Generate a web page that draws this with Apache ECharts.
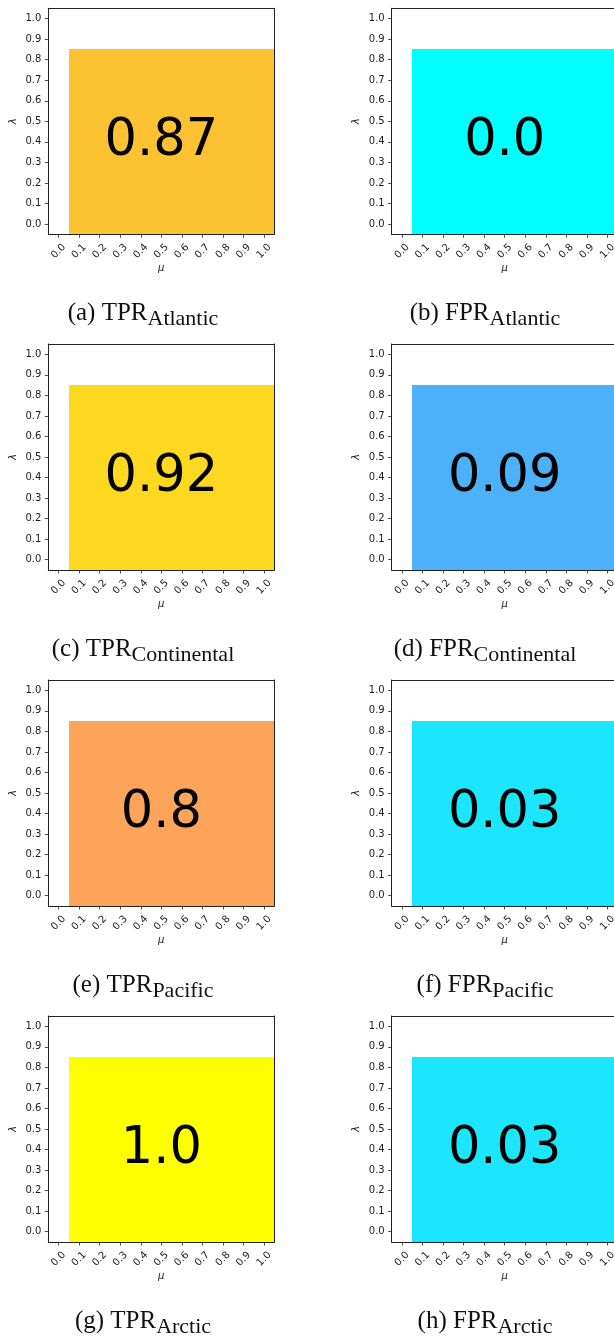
<!DOCTYPE html>
<html>
<head>
<meta charset="utf-8">
<script src="https://cdn.jsdelivr.net/npm/echarts@6/dist/echarts.min.js"></script>
<style>
html,body{margin:0;padding:0;background:#fff;}
#c{width:614px;height:1336px;}
</style>
</head>
<body>
<div id="c"></div>
<script>
// ---- data ----
const regions = ['Atlantic', 'Continental', 'Pacific', 'Arctic'];
const letters = [['a', 'b'], ['c', 'd'], ['e', 'f'], ['g', 'h']];
const tprValues = [0.87, 0.92, 0.8, 1.0];
const fprValues = [0.0, 0.09, 0.03, 0.03];
const tprColors = ['#FCC232', '#FDD821', '#FCA55A', '#FFFF00'];
const fprColors = ['#00FFFF', '#4DB1FA', '#1BE6FE', '#1BE6FE'];
const muValues = [0.1, 0.2, 0.3, 0.4, 0.5, 0.6, 0.7, 0.8, 0.9, 1.0];
const lambdaValues = [0.0, 0.1, 0.2, 0.3, 0.4, 0.5, 0.6, 0.7, 0.8];
const tickValues = [0.0, 0.1, 0.2, 0.3, 0.4, 0.5, 0.6, 0.7, 0.8, 0.9, 1.0];
const textPos = [0.5, 0.4];
const axisMin = -0.05, axisMax = 1.05;

// ---- layout ----
const rowTops = [8.3, 344, 680, 1016];
const colLefts = [48.3, 391.7];
const gridSize = 226;
const captionX = [143, 485];
const captionY = 330;
const rowStep = 336;

const chart = echarts.init(document.getElementById('c'), null, {renderer: 'canvas'});

const grids = [], xAxes = [], yAxes = [], series = [], graphics = [];
const fmt = v => (Math.round(v * 10) / 10).toFixed(1);
const fmtVal = v => (Number.isInteger(v) ? v.toFixed(1) : String(v));
const spine = {show: true, onZero: false, lineStyle: {color: '#222', width: 1}};
const halfW = (muValues[1] - muValues[0]) / 2;
const halfH = (lambdaValues[1] - lambdaValues[0]) / 2;

let gi = 0;
for (let r = 0; r < 4; r++) {
  for (let c = 0; c < 2; c++) {
    const value = c === 0 ? tprValues[r] : fprValues[r];
    const color = c === 0 ? tprColors[r] : fprColors[r];
    grids.push({left: colLefts[c], top: rowTops[r], width: gridSize, height: gridSize,
      containLabel: false, outerBoundsMode: 'none'});
    // main axes
    xAxes.push({
      type: 'value', gridIndex: gi, min: axisMin, max: axisMax, position: 'bottom', z: 10,
      axisLine: spine,
      axisTick: {show: true, length: 3.5, customValues: tickValues, lineStyle: {color: '#222', width: 0.8}},
      axisLabel: {customValues: tickValues, formatter: fmt, rotate: 45, align: 'center', verticalAlign: 'middle',
        margin: 17, fontSize: 10, fontFamily: 'DejaVu Sans', color: '#1a1a1a'},
      splitLine: {show: false},
      name: 'μ', nameLocation: 'middle', nameGap: 29,
      nameTextStyle: {fontSize: 10, fontFamily: 'DejaVu Sans', fontStyle: 'italic', color: '#222'}
    });
    yAxes.push({
      type: 'value', gridIndex: gi, min: axisMin, max: axisMax, position: 'left', z: 10,
      axisLine: spine,
      axisTick: {show: true, length: 3.5, customValues: tickValues, lineStyle: {color: '#222', width: 0.8}},
      axisLabel: {customValues: tickValues, formatter: fmt, margin: 7, fontSize: 10, fontFamily: 'DejaVu Sans', color: '#1a1a1a'},
      splitLine: {show: false},
      name: 'λ', nameLocation: 'middle', nameGap: 30, nameRotate: 90,
      nameTextStyle: {fontSize: 10, fontFamily: 'DejaVu Sans', fontStyle: 'italic', color: '#222'}
    });
    // top / right spines
    xAxes.push({type: 'value', gridIndex: gi, min: axisMin, max: axisMax, position: 'top', z: 10,
      axisLine: spine, axisTick: {show: false}, axisLabel: {show: false}, splitLine: {show: false}});
    yAxes.push({type: 'value', gridIndex: gi, min: axisMin, max: axisMax, position: 'right', z: 10,
      axisLine: spine, axisTick: {show: false}, axisLabel: {show: false}, splitLine: {show: false}});

    const cells = [];
    for (const mu of muValues) for (const lam of lambdaValues) cells.push([mu, lam, value]);
    series.push({
      type: 'custom', xAxisIndex: gi * 2, yAxisIndex: gi * 2, data: cells, z: 2, silent: true,
      renderItem: function (params, api) {
        const mu = api.value(0), lam = api.value(1);
        const p1 = api.coord([mu - halfW, lam + halfH]);
        const p2 = api.coord([mu + halfW, lam - halfH]);
        const x = Math.round(p1[0]), y = Math.round(p1[1]);
        return {type: 'rect', shape: {x: x, y: y, width: Math.round(p2[0]) - x, height: Math.round(p2[1]) - y},
          style: {fill: color}};
      }
    });
    series.push({
      type: 'scatter', xAxisIndex: gi * 2, yAxisIndex: gi * 2, z: 5, silent: true,
      symbolSize: 0, itemStyle: {opacity: 1},
      data: [[textPos[0], textPos[1], value]],
      label: {show: true, position: 'inside', formatter: p => fmtVal(p.value[2]), opacity: 1,
        fontSize: 51, fontFamily: 'DejaVu Sans', color: '#000', textBorderWidth: 0}
    });

    const metric = c === 0 ? 'TPR' : 'FPR';
    graphics.push({
      type: 'text', x: captionX[c], y: captionY + r * rowStep,
      style: {
        text: '{m|(' + letters[r][c] + ') ' + metric + '}{s|' + regions[r] + '}',
        align: 'center', verticalAlign: 'bottom',
        rich: {
          m: {fontSize: 25, fontFamily: 'Liberation Serif', fill: '#111', lineHeight: 25, padding: [0, 0, 4, 0], verticalAlign: 'bottom'},
          s: {fontSize: 22, fontFamily: 'Liberation Serif', fill: '#111', lineHeight: 22, verticalAlign: 'bottom'}
        }
      }
    });
    gi++;
  }
}

chart.setOption({
  animation: false,
  backgroundColor: '#fff',
  grid: grids,
  xAxis: xAxes,
  yAxis: yAxes,
  series: series,
  graphic: graphics
});
</script>
</body>
</html>
